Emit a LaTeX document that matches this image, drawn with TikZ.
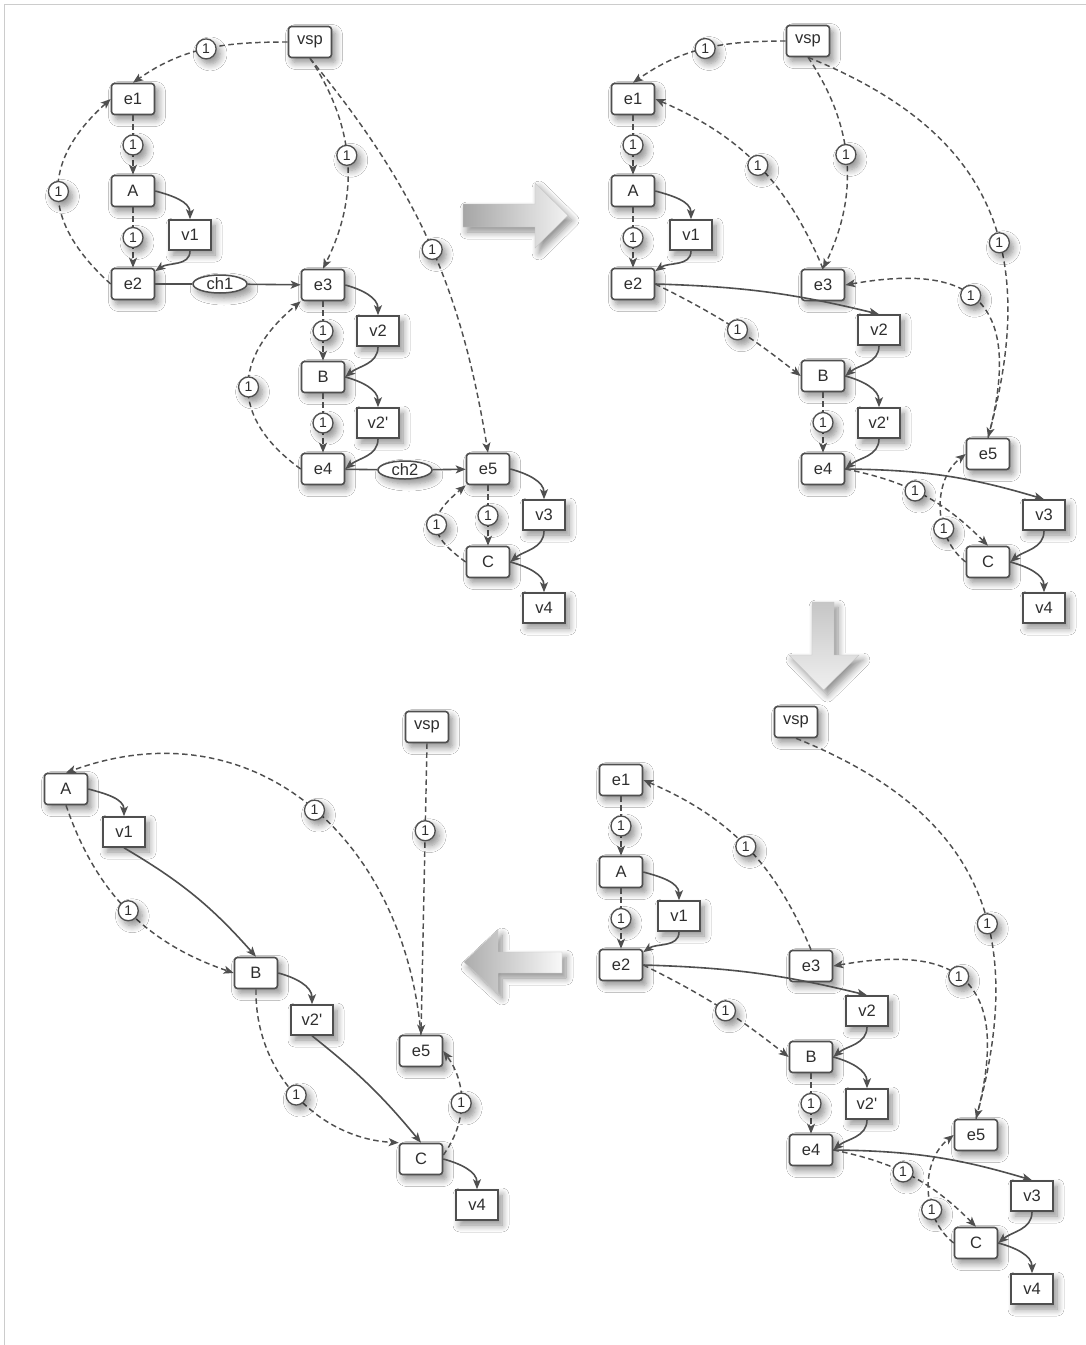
\documentclass[tikz,border=0pt]{standalone}
\usepackage{fontspec}
\setmainfont{Liberation Sans}
\usetikzlibrary{arrows.meta,shapes.geometric,shadows.blur}

\definecolor{ink}{HTML}{4F4F4F}
\definecolor{txt}{HTML}{2E2E2E}
\definecolor{rule}{HTML}{CCCCCC}

\tikzset{
  softshadow/.style={blur shadow={shadow xshift=4pt, shadow yshift=-5pt,
      shadow blur radius=7pt, shadow blur steps=8, shadow opacity=45}},
  ebox/.style={draw=ink, line width=1.6pt, rounded corners=3pt, fill=white, text=txt,
      minimum width=43pt, minimum height=31pt, inner sep=0pt, softshadow,
      font=\fontsize{16.5}{18}\selectfont},
  vbox/.style={ebox, rounded corners=0pt, minimum width=42pt, minimum height=30pt},
  chan/.style={ellipse, draw=ink, line width=1.5pt, fill=white, text=txt,
      minimum width=54pt, minimum height=18pt, inner sep=0pt, softshadow,
      font=\fontsize{16.5}{18}\selectfont},
  lbl/.style={circle, solid, draw=ink, line width=1.3pt, fill=white, text=txt,
      minimum size=20pt, inner sep=0pt, softshadow, font=\fontsize{14}{14}\selectfont},
  ln/.style={draw=ink, line width=1.6pt},
  flow/.style={ln, -{Stealth[length=10pt,width=8pt,inset=2.5pt]}},
  dep/.style={flow, line width=1.45pt, dash pattern=on 5.5pt off 3.5pt},
  bigarrow/.style={softshadow, draw=gray!45, line width=0.4pt},
}

% nodes and connectors shared by the two right-hand stages
\newcommand\corepanel{%
  \node[ebox] (vsp) at (808,-41) {vsp};
  \node[ebox] (e1) at (633,-99) {e1};
  \node[ebox] (A) at (633,-191) {A};
  \node[vbox] (v1) at (691,-235) {v1};
  \node[ebox] (e2) at (633,-284) {e2};
  \node[ebox] (e3) at (823,-285) {e3};
  \node[vbox] (v2) at (879,-330) {v2};
  \node[ebox] (B) at (823,-376) {B};
  \node[vbox] (v2p) at (879,-423) {v2\textquotesingle};
  \node[ebox] (e4) at (823,-469) {e4};
  \node[ebox] (e5) at (988,-454) {e5};
  \node[vbox] (v3) at (1044,-515) {v3};
  \node[ebox] (C) at (988,-562) {C};
  \node[vbox] (v4) at (1044,-608) {v4};
  \draw[dep] (e1) -- node[lbl]{1} (A);
  \draw[dep] (A) -- node[lbl]{1} (e2);
  \draw[flow] (A.east) to[out=-15,in=90] (v1.north);
  \draw[flow] (v1.south) to[out=-90,in=35] (e2.30);
  \draw[dep] (e3.north) to[bend right=22] node[lbl]{1} (e1.east);
  \draw[dep] (vsp.south) to[out=-22,in=75,looseness=1.2] node[lbl,pos=.6]{1} (e5.north);
  \draw[dep] (e5.north) to[out=75,in=10,out distance=150pt,in distance=120pt] node[lbl,pos=.53]{1} (e3.east);
  \draw[flow] (e2.east) to[bend left=6] (v2.north);
  \draw[dep] (e2.east) to[bend left=6] node[lbl,pos=.55]{1} (B.west);
  \draw[flow] (v2.south) to[out=-90,in=40] (B.east);
  \draw[flow] (B.east) to[out=-15,in=90] (v2p.north);
  \draw[dep] (B) -- node[lbl]{1} (e4);
  \draw[flow] (v2p.south) to[out=-90,in=40] (e4.east);
  \draw[flow] (e4.east) to[bend left=8] (v3.north);
  \draw[dep] (e4.east) to[bend left=17] node[lbl,pos=.44]{1} (C.north);
  \draw[dep] (C.west) to[bend left=52] node[lbl,pos=.33]{1} (e5.west);
  \draw[flow] (v3.south) to[out=-90,in=40] (C.east);
  \draw[flow] (C.east) to[out=-15,in=90] (v4.north);
}

\begin{document}
\begin{tikzpicture}[x=1pt,y=1pt]
\fill[white] (0,0) rectangle (1086,-1345);
\useasboundingbox (0,0) rectangle (1086,-1345);
\draw[rule, line width=1.5pt] (4.5,-1345) -- (4.5,-4.5) -- (1086,-4.5);

% ---------- stage 1 ----------
\begin{scope}[name prefix=p-]
  \node[ebox] (vsp) at (310,-42) {vsp};
  \node[ebox] (e1) at (133,-99) {e1};
  \node[ebox] (A) at (133,-191) {A};
  \node[vbox] (v1) at (190,-235) {v1};
  \node[ebox] (e2) at (133,-284) {e2};
  \node[chan] (ch1) at (220,-284) {ch1};
  \node[ebox] (e3) at (323,-285) {e3};
  \node[vbox] (v2) at (378,-331) {v2};
  \node[ebox] (B) at (323,-377) {B};
  \node[vbox] (v2p) at (378,-423) {v2\textquotesingle};
  \node[ebox] (e4) at (323,-469) {e4};
  \node[chan] (ch2) at (405,-470) {ch2};
  \node[ebox] (e5) at (488,-469) {e5};
  \node[vbox] (v3) at (544,-515) {v3};
  \node[ebox] (C) at (488,-562) {C};
  \node[vbox] (v4) at (544,-608) {v4};

  \draw[dep] (vsp.west) to[out=180,in=35] node[lbl]{1} (e1.north);
  \draw[dep] (e1) -- node[lbl]{1} (A);
  \draw[dep] (A) -- node[lbl]{1} (e2);
  \draw[dep] (e2.west) to[out=138,in=222,looseness=1.3] node[lbl]{1} (e1.west);
  \draw[flow] (A.east) to[out=-15,in=90] (v1.north);
  \draw[flow] (v1.south) to[out=-90,in=35] (e2.30);
  \draw[ln] (e2) -- (ch1);
  \draw[flow] (ch1) -- (e3);
  \draw[dep] (vsp.south) to[bend left=30] node[lbl,pos=.47]{1} (e3.north);
  \draw[dep] (vsp.south) to[bend left=15] node[lbl,pos=.52]{1} (e5.north);
  \draw[flow] (e3.east) to[out=-15,in=90] (v2.north);
  \draw[dep] (e3) -- node[lbl]{1} (B);
  \draw[flow] (v2.south) to[out=-90,in=40] (B.east);
  \draw[flow] (B.east) to[out=-15,in=90] (v2p.north);
  \draw[dep] (B) -- node[lbl]{1} (e4);
  \draw[flow] (v2p.south) to[out=-90,in=40] (e4.east);
  \draw[dep] (e4.west) to[out=144,in=220,looseness=1.35] node[lbl]{1} (e3.south west);
  \draw[ln] (e4) -- (ch2);
  \draw[flow] (ch2) -- (e5);
  \draw[flow] (e5.east) to[out=-15,in=90] (v3.north);
  \draw[dep] (e5) -- node[lbl]{1} (C);
  \draw[flow] (v3.south) to[out=-90,in=40] (C.east);
  \draw[dep] (C.west) to[out=144,in=220,looseness=1.65] node[lbl]{1} (e5.south west);
  \draw[flow] (C.east) to[out=-15,in=90] (v4.north);
\end{scope}

% ---------- stage 2 ----------
\begin{scope}[name prefix=q-]
  \corepanel
  \draw[dep] (vsp.west) to[out=180,in=35] node[lbl]{1} (e1.north);
  \draw[dep] (vsp.south) to[bend left=30] node[lbl,pos=.47]{1} (e3.north);
\end{scope}

% ---------- stage 3 ----------
\begin{scope}[name prefix=r-, shift={(-12,-681)}]
  \corepanel
\end{scope}

% ---------- stage 4 ----------
\begin{scope}[name prefix=s-]
  \node[ebox] (vsp) at (427,-727) {vsp};
  \node[ebox] (A) at (66,-789) {A};
  \node[vbox] (v1) at (124,-832) {v1};
  \node[ebox] (B) at (256,-973) {B};
  \node[vbox] (v2p) at (312,-1020) {v2\textquotesingle};
  \node[ebox] (e5) at (421,-1051) {e5};
  \node[ebox] (C) at (421,-1159) {C};
  \node[vbox] (v4) at (477,-1205) {v4};

  \draw[dep] (vsp.south) -- node[lbl,pos=.3]{1} (e5.north);
  \draw[dep] (e5.north) to[out=95,in=20,looseness=1.15] node[lbl,pos=.48]{1} (A.north);
  \draw[flow] (A.east) to[out=-15,in=90] (v1.north);
  \draw[flow] (v1.south) to[bend left=9] (B.north);
  \draw[dep] (A.south) to[bend right=26] node[lbl]{1} (B.west);
  \draw[flow] (B.east) to[out=-15,in=90] (v2p.north);
  \draw[flow] (v2p.south) to[bend left=6] (C.north);
  \draw[dep] (B.south) to[bend right=44] node[lbl]{1} (C.north west);
  \draw[dep] (C.10) to[bend right=36] node[lbl]{1} (e5.east);
  \draw[flow] (C.east) to[out=-15,in=90] (v4.north);
\end{scope}

% ---------- transition arrows ----------
\path[bigarrow, left color=gray!70, right color=gray!10]
  (463,-204) -- (535,-204) -- (535,-183) -- (568,-215.5) -- (535,-248)
  -- (535,-227) -- (463,-227) -- cycle;
\path[bigarrow, top color=gray!45, bottom color=gray!12]
  (812,-602) -- (834,-602) -- (834,-655) -- (859,-655) -- (823.5,-690)
  -- (789,-655) -- (812,-655) -- cycle;
\path[bigarrow, left color=gray!65, right color=gray!5]
  (464,-962) -- (498,-930) -- (498,-952) -- (562,-952) -- (562,-973)
  -- (498,-973) -- (498,-993) -- cycle;
\end{tikzpicture}
\end{document}
